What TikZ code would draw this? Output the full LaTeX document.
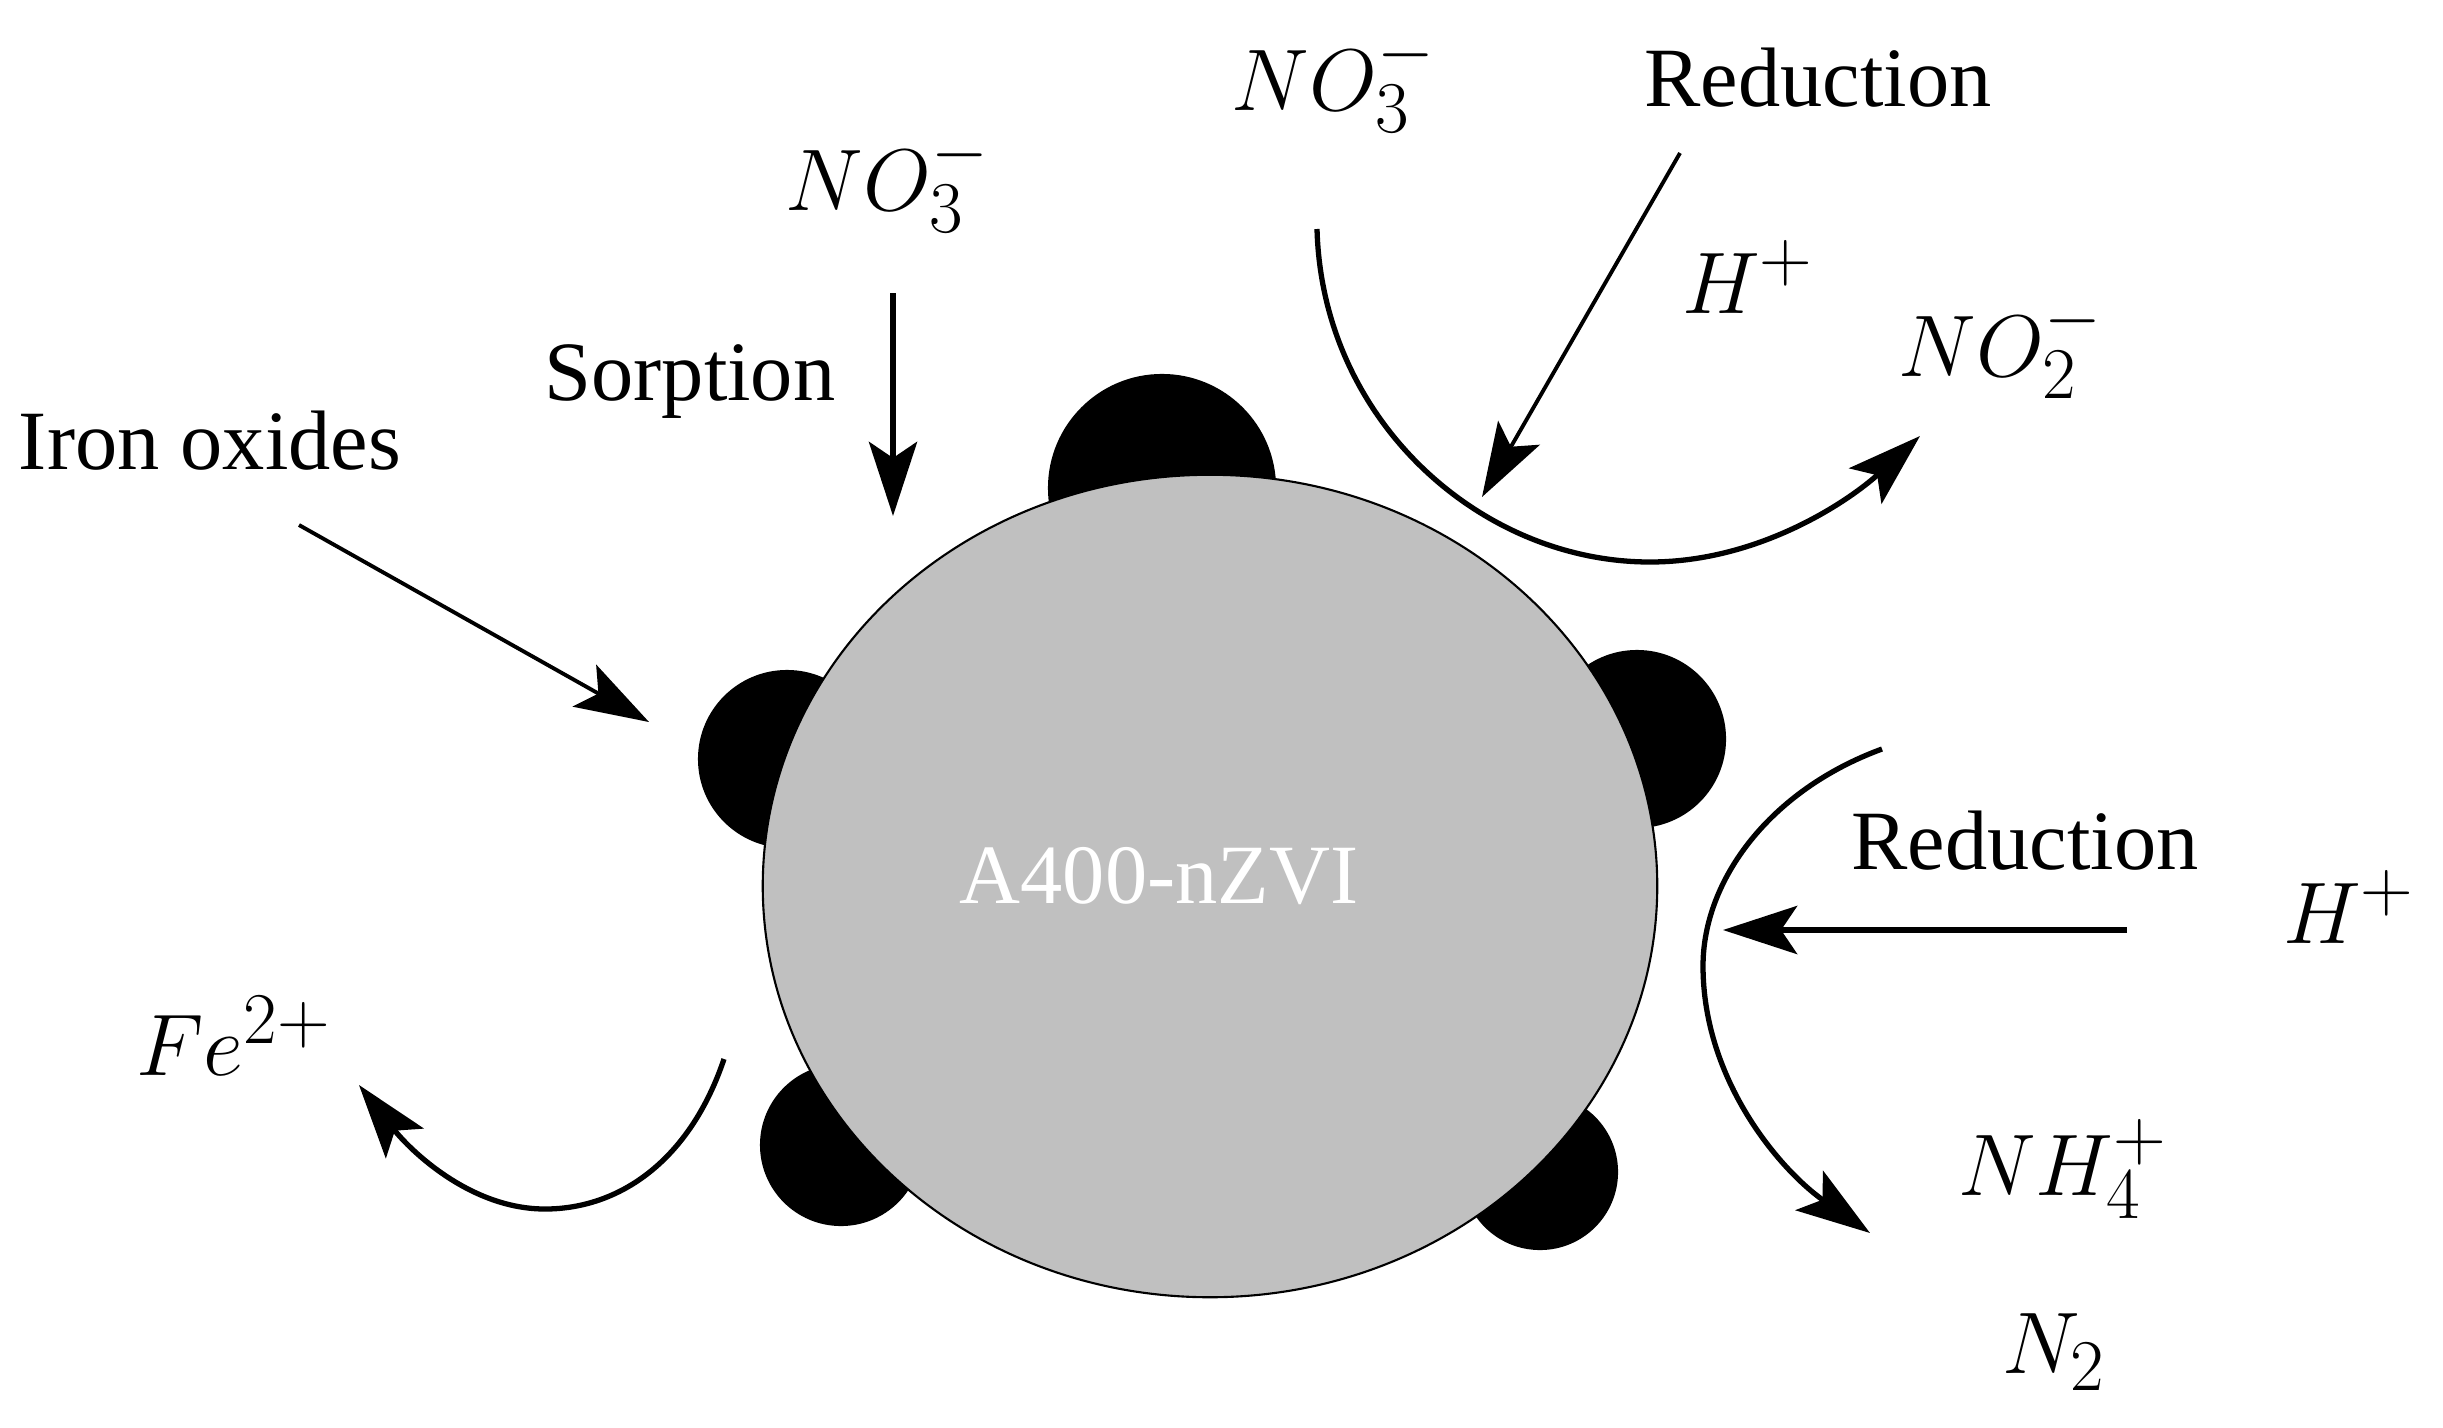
\documentclass[tikz,border=0pt]{standalone}
\usepackage{fontspec}
\setmainfont{Liberation Serif}
\usetikzlibrary{arrows.meta}
\DeclareMathSizes{26}{26}{21}{16}
\definecolor{particle}{RGB}{192,192,192}
\begin{document}
\begin{tikzpicture}[x=0.01cm,y=-0.01cm,
  lbl/.style={font=\fontsize{24}{28}\selectfont, inner sep=0pt},
  chem/.style={font=\fontsize{26}{30}\selectfont, inner sep=0pt},
  blob/.style={fill=black},
  tip/.style={-{Stealth[length=7.4mm,width=4.8mm,inset=1.6mm]}},
  thinarrow/.style={tip, line width=1.1pt},
  thickarrow/.style={tip, line width=1.8pt},
  curvearrow/.style={tip, line width=1.5pt}]
\useasboundingbox (0,0) rectangle (2443,1427);
% oxide blobs
\fill[blob] (1162,488) circle [radius=1.14cm];
\fill[blob] (787,759) circle [radius=0.89cm];
\fill[blob] (1637,739) circle [radius=0.89cm];
\fill[blob] (841,1145) circle [radius=0.81cm];
\fill[blob] (1540,1172) circle [radius=0.78cm];
% particle
\draw[fill=particle, line width=0.6pt] (1210,886) ellipse [x radius=4.47cm, y radius=4.11cm];
\node[lbl, text=white] (core) at (1159,876) {A400-nZVI};
% labels
\node[lbl] (iron) at (210,441) {Iron oxides};
\node[lbl] (sorp) at (690,382) {Sorption};
\node[chem] (no3a) at (888,182) {$NO_3^-$};
\node[chem] (no3b) at (1334,82) {$NO_3^-$};
\node[lbl] (red1) at (1818,78) {Reduction};
\node[chem] (h1) at (1748,277) {$H^+$};
\node[chem] (no2) at (2001,348) {$NO_2^-$};
\node[lbl] (red2) at (2025,841) {Reduction};
\node[chem] (h2) at (2349,907) {$H^+$};
\node[chem] (fe) at (234,1036) {$Fe^{2+}$};
\node[chem] (nh4) at (2063,1169) {$NH_4^+$};
\node[chem] (n2) at (2054,1352) {$N_2$};
% arrow end points
\coordinate (ioS) at (299,525); \coordinate (ioE) at (649,722);
\coordinate (soS) at (893,293); \coordinate (soE) at (893,516);
\coordinate (r1S) at (1680,153); \coordinate (r1E) at (1482,497);
\coordinate (r2S) at (2127,930); \coordinate (r2E) at (1723,930);
\coordinate (c1S) at (1317,229); \coordinate (c1M) at (1650,562); \coordinate (c1E) at (1920,436);
\coordinate (c2S) at (1882,749); \coordinate (c2M) at (1703,966); \coordinate (c2E) at (1870,1233);
\coordinate (c3S) at (724,1059); \coordinate (c3M) at (545,1209); \coordinate (c3E) at (359,1085);
% straight arrows
\draw[thinarrow] (ioS) -- (ioE);
\draw[thickarrow] (soS) -- (soE);
\draw[thinarrow] (r1S) -- (r1E);
\draw[thickarrow] (r2S) -- (r2E);
% curved arrows
\draw[curvearrow] (c1S) .. controls (1322,420) and (1480,562) .. (c1M) .. controls (1760,562) and (1850,500) .. (c1E);
\draw[curvearrow] (c2S) .. controls (1770,790) and (1703,880) .. (c2M) .. controls (1703,1080) and (1780,1170) .. (c2E);
\draw[curvearrow] (c3S) .. controls (690,1160) and (620,1209) .. (c3M) .. controls (470,1209) and (410,1150) .. (c3E);
\end{tikzpicture}
\end{document}
